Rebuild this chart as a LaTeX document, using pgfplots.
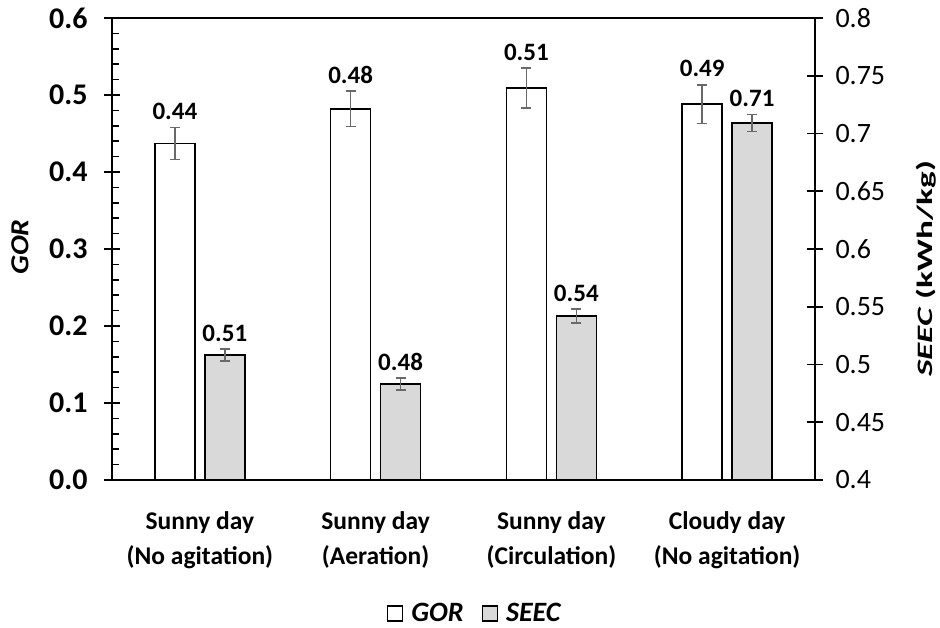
\documentclass[border=0pt]{standalone}
\usepackage{pgfplots}
\pgfplotsset{compat=1.18}
\usepackage{pgfplotstable}
\usepackage{fontspec}
\usepackage{graphicx}
\setmainfont{Carlito}
\definecolor{errgray}{RGB}{105,105,105}
\definecolor{seecgray}{RGB}{217,217,217}

\pgfplotstableread{
x      y      e      lab
-0.142 0.437  0.021  0.44
0.858  0.482  0.023  0.48
1.858  0.509  0.026  0.51
2.858  0.488  0.025  0.49
}\gordata
\pgfplotstableread{
x      y      e       lab
0.142  0.508  0.0052  0.51
1.142  0.483  0.0052  0.48
2.142  0.542  0.0060  0.54
3.142  0.709  0.0074  0.71
}\seecdata

\begin{document}
\begin{tikzpicture}
\useasboundingbox (-112pt,-148pt) rectangle (828pt,480pt);
\begin{axis}[
  at={(0pt,0pt)}, anchor=south west,
  width=703pt, height=462pt, scale only axis,
  xmin=-0.5, xmax=3.5, ymin=0, ymax=0.6,
  axis line style={line width=1.6pt, black},
  xtick={0,1,2,3},
  xticklabels={{Sunny day\\(No agitation)},{Sunny day\\(Aeration)},{Sunny day\\(Circulation)},{Cloudy day\\(No agitation)}},
  xtick style={draw=none},
  xticklabel style={align=center, anchor=north, inner sep=0pt, yshift=-23pt, font=\fontsize{25.5}{35}\selectfont\bfseries},
  ytick={0,0.1,0.2,0.3,0.4,0.5,0.6},
  ytick pos=left,
  minor y tick num=4,
  tick align=center,
  major tick length=16pt,
  minor tick length=7pt,
  tick style={line width=1.6pt, black},
  minor y tick style={xshift=3.5pt},
  yticklabel style={xshift=-13pt, font=\fontsize{30}{34}\selectfont\bfseries, /pgf/number format/.cd, fixed, fixed zerofill, precision=1, assume math mode=true},
  ylabel={\scalebox{1.14}[1]{\textbf{\textit{GOR}}}},
  ylabel style={at={(axis description cs:-0.131,0.504)}, anchor=center, font=\fontsize{26}{30}\selectfont},
  legend style={at={(0.516,-0.288)}, anchor=center, draw=none, legend columns=2,
    font=\fontsize{28}{32}\selectfont\bfseries\itshape,
    /tikz/every odd column/.append style={column sep=6pt},
    /tikz/every even column/.append style={column sep=16pt}},
  legend image code/.code={\draw[#1, line width=1.3pt] (0pt,-8pt) rectangle (15pt,7pt);},
]
\addplot[ybar, bar width=40pt, bar shift=0pt, draw=black, line width=1.6pt, fill=white,
  nodes near coords, point meta=explicit symbolic,
  visualization depends on={\thisrow{e} \as \myerr},
  every node near coord/.append style={anchor=base, inner sep=0pt, yshift={\myerr*770+8}, font=\fontsize{25}{30}\selectfont\bfseries, black},
  error bars/.cd, y dir=both, y explicit,
  error bar style={line width=1.6pt, color=errgray},
  error mark options={rotate=90, mark size=5pt, line width=1.6pt, color=errgray},
] table[x=x, y=y, y error=e, meta=lab] {\gordata};
\addlegendentry{GOR}
\addlegendimage{draw=black, fill=seecgray}
\addlegendentry{SEEC}
\end{axis}
\begin{axis}[
  at={(0pt,0pt)}, anchor=south west,
  width=703pt, height=462pt, scale only axis,
  xmin=-0.5, xmax=3.5, ymin=0.4, ymax=0.8,
  axis x line=none,
  axis y line*=right,
  axis line style={line width=1.6pt, black, -},
  ytick={0.4,0.45,0.5,0.55,0.6,0.65,0.7,0.75,0.8},
  tick align=center,
  major tick length=16pt,
  tick style={line width=1.6pt, black},
  yticklabel style={xshift=9pt, font=\fontsize{28}{32}\selectfont, /pgf/number format/.cd, fixed, precision=2, assume math mode=true},
  ylabel={\scalebox{1.6}[1]{\textbf{\textit{SEEC} (kWh/kg)}}},
  ylabel style={at={(axis description cs:1.158,0.457)}, anchor=center, font=\fontsize{22}{26}\selectfont},
]
\addplot[ybar, bar width=40pt, bar shift=0pt, draw=black, line width=1.6pt, fill=seecgray,
  nodes near coords, point meta=explicit symbolic,
  visualization depends on={\thisrow{e} \as \myerr},
  every node near coord/.append style={anchor=base, inner sep=0pt, yshift={\myerr*1155+8}, font=\fontsize{25}{30}\selectfont\bfseries, black},
  error bars/.cd, y dir=both, y explicit,
  error bar style={line width=1.6pt, color=errgray},
  error mark options={rotate=90, mark size=5pt, line width=1.6pt, color=errgray},
] table[x=x, y=y, y error=e, meta=lab] {\seecdata};
\end{axis}
\end{tikzpicture}
\end{document}
